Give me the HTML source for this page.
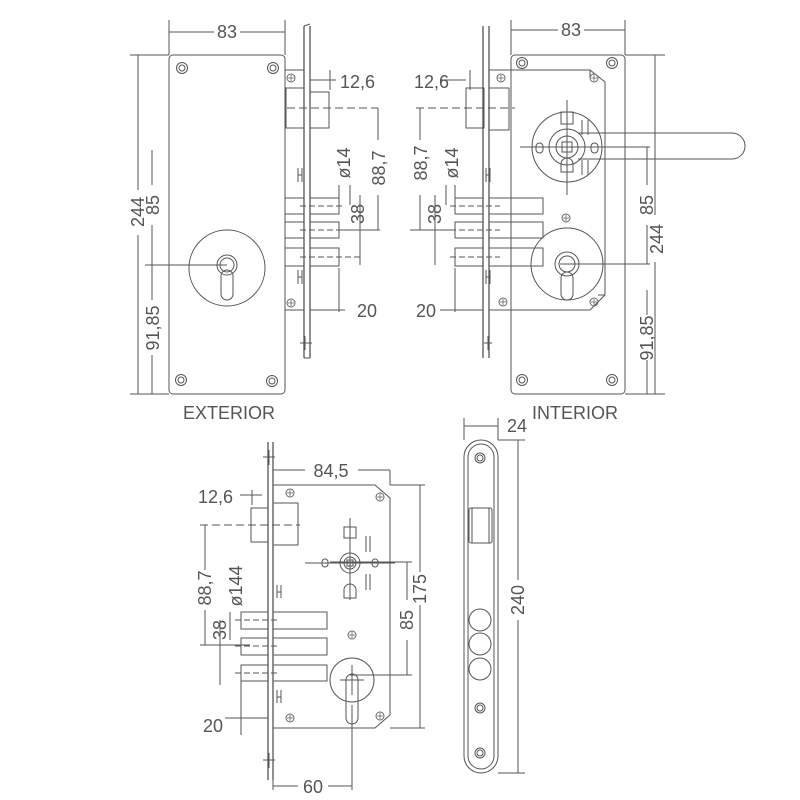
<!DOCTYPE html>
<html><head><meta charset="utf-8"><style>
html,body{margin:0;padding:0;background:#fff}
svg{display:block}
text{font-family:"Liberation Sans",sans-serif;fill:#555;font-size:18px}
</style></head><body>
<svg width="800" height="800" viewBox="0 0 800 800" xmlns="http://www.w3.org/2000/svg">
<defs>
<g id="scr"><circle r="5.5" fill="none" stroke="#555" stroke-width="1"/><circle r="3" fill="none" stroke="#555" stroke-width="1"/></g>
<g id="scr2"><circle r="4" fill="none" stroke="#666" stroke-width="1"/><path d="M-3 0H3M0 -3V3" stroke="#666" stroke-width="0.8"/></g>
</defs>
<g fill="none" stroke="#555" stroke-width="1">
<!-- ===== EXTERIOR ===== -->
<rect x="169" y="55" width="116" height="339" rx="4"/>
<use href="#scr" x="182" y="68"/><use href="#scr" x="273" y="68"/>
<use href="#scr" x="181" y="380"/><use href="#scr" x="272" y="381"/>
<path d="M169 20V55M285 20V55M169 32H214M240 32H285"/>
<path d="M138 55V190M138 235V394M130 55H169M130 394H169"/>
<path d="M152 150V185M152 225V300M152 355V394M145 265H227"/>
<circle cx="227" cy="268" r="38"/>
<circle cx="227" cy="265" r="10"/><circle cx="227" cy="265" r="7"/>
<rect x="221" y="270" width="12" height="30" rx="6"/>
<path d="M304 26V358M310 26V358" stroke-width="1.3"/>
<path d="M304 26L310 24M304 358L310 358"/>
<path d="M285 70H304M285 310H304"/>
<use href="#scr2" x="291" y="78"/><use href="#scr2" x="291" y="303"/>
<rect x="286" y="88" width="18" height="40"/>
<rect x="310" y="92" width="19" height="36"/>
<path d="M287 108H378" stroke-dasharray="8 4"/>
<path d="M310 80H336M330 70V90" />
<path d="M378 108V140M378 195V230M340 230H380"/>
<path d="M298 168V182M302 168V182M298 175H302M298 270V284M302 270V284M298 277H302"/>
<rect x="285" y="198" width="19" height="16"/><rect x="310" y="198" width="29" height="16"/>
<rect x="285" y="222" width="19" height="16"/><rect x="310" y="222" width="29" height="16"/>
<rect x="285" y="248" width="19" height="18"/><rect x="310" y="248" width="29" height="18"/>
<path d="M300 206H345M300 230H345M300 257H360" stroke-dasharray="6 3"/>
<path d="M339 185V199M350 185V205M360 195V265M339 268V312"/>
<path d="M310 310H345"/>
<path d="M300 343H312M305 336V350"/>
<!-- ===== INTERIOR ===== -->
<rect x="511" y="55" width="114" height="339" rx="4"/>
<use href="#scr" x="522" y="63"/><use href="#scr" x="612" y="63"/>
<use href="#scr" x="522" y="380"/><use href="#scr" x="612" y="380"/>
<path d="M511 20V55M625 20V55M511 30H558M584 30H625"/>
<path d="M489 70H590L605 82V295L590 310H489M590 70V78M605 295H598"/>
<use href="#scr2" x="501" y="78"/><use href="#scr2" x="594" y="78"/>
<use href="#scr2" x="503" y="302"/><use href="#scr2" x="594" y="302"/>
<use href="#scr2" x="566" y="218"/>
<path d="M483 26V358M489 26V358" stroke-width="1.3"/>
<rect x="466" y="88" width="18" height="40"/><rect x="489" y="88" width="20" height="42"/>
<path d="M416 108H515" stroke-dasharray="8 4"/>
<path d="M440 80H466M470 70V90"/>
<path d="M420 108V140M420 195V230M410 230H450"/>
<path d="M486 168V182M490 168V182M486 175H490M486 270V284M490 270V284M486 277H490"/>
<rect x="455" y="198" width="28" height="16"/><rect x="489" y="198" width="54" height="16"/>
<rect x="455" y="222" width="28" height="16"/><rect x="489" y="222" width="54" height="16"/>
<rect x="455" y="248" width="28" height="18"/><rect x="489" y="248" width="54" height="18"/>
<path d="M450 206H500M450 230H500M450 257H500" stroke-dasharray="6 3"/>
<path d="M455 185V199M446 185V205M435 195V265M455 268V312M440 310H483"/>
<path d="M484 343H492M488 336V350"/>
<circle cx="567" cy="147" r="35"/><circle cx="567" cy="147" r="18"/><circle cx="567" cy="147" r="11"/>
<rect x="562" y="142" width="10" height="10"/>
<path d="M520 147H650M567 100V195"/>
<rect x="561" y="112" width="12" height="12"/>
<path d="M561 172V164A6 6 0 0 1 573 164V172Z"/>
<rect x="536" y="143" width="7" height="10" rx="3.5"/><rect x="591" y="143" width="7" height="10" rx="3.5"/>
<path d="M582 120V135M588 120V135M582 160V175M588 160V175"/>
<path d="M578 133H732A13 13 0 0 1 732 159H578"/>
<circle cx="567" cy="264" r="36"/><circle cx="567" cy="264" r="12"/><circle cx="567" cy="264" r="8"/>
<rect x="561" y="272" width="12" height="28" rx="6"/>
<path d="M560 264H650"/>
<path d="M655 55V215M655 262V394M625 55H665M625 394H665"/>
<path d="M647 147V185M647 225V264M647 290V315M647 360V394"/>
<!-- ===== BOTTOM LOCK ===== -->
<path d="M268 442V780M273 442V780" stroke-width="1.3"/>
<path d="M273 485H375L390 498V715L375 728H273"/>
<use href="#scr2" x="290" y="493"/><use href="#scr2" x="380" y="497"/>
<use href="#scr2" x="290" y="718"/><use href="#scr2" x="380" y="716"/>
<use href="#scr2" x="352" y="635"/>
<path d="M263 457H275M269 450V465M263 760H275M269 753V768"/>
<rect x="251" y="508" width="17" height="34"/><rect x="273" y="503" width="25" height="42"/>
<path d="M200 525H300" stroke-dasharray="8 4"/>
<path d="M240 495H262M252 490V505"/>
<path d="M273 470H305M358 470H390M390 470V485M390 485H425M390 728H425"/>
<path d="M420 485V572M420 605V728"/>
<path d="M407 562V600M407 640V675M330 562H412M350 675H412"/>
<path d="M205 525V570M205 610V645M200 645H250"/>
<circle cx="350" cy="563" r="10"/><circle cx="350" cy="563" r="6"/>
<rect x="347" y="560" width="6" height="6"/>
<path d="M305 563H395M350 518V600"/>
<rect x="344" y="527" width="12" height="11"/>
<path d="M344 598V590A6 6 0 0 1 356 590V598Z"/>
<rect x="322" y="559" width="6" height="8" rx="3"/><rect x="372" y="559" width="6" height="8" rx="3"/>
<path d="M366 536V552M370 536V552M366 574V590M370 574V590"/>
<rect x="241" y="612" width="27" height="17"/><rect x="273" y="612" width="54" height="17"/>
<rect x="241" y="638" width="27" height="17"/><rect x="273" y="638" width="54" height="17"/>
<rect x="241" y="665" width="27" height="16"/><rect x="273" y="665" width="54" height="16"/>
<path d="M235 620H280M235 646H280M235 673H280" stroke-dasharray="6 3"/>
<path d="M230 612V640M220 620V685M241 681V735M225 718H268"/>
<path d="M277 585V598M281 585V598M277 592H281M277 690V703M281 690V703M277 697H281"/>
<circle cx="352" cy="680" r="22"/>
<path d="M346 680A6 6 0 0 1 358 680V718A6 6 0 0 1 346 718Z"/>
<path d="M352 665V695M340 680H364"/>
<path d="M352 705V790M273 760V790M273 786H298M328 786H352"/>
<rect x="464" y="440" width="34" height="333" rx="17"/>
<rect x="468" y="444" width="26" height="325" rx="13"/>
<path d="M464 418V440M498 418V440M464 426H498M498 440H525M498 773H525"/>
<path d="M518 440V580M518 620V773"/>
<circle cx="480" cy="458" r="5"/><circle cx="480" cy="458" r="3"/>
<rect x="469" y="508" width="23" height="35" rx="2"/>
<path d="M472 508V543M489 508V543"/>
<circle cx="480" cy="620" r="11"/><circle cx="480" cy="644" r="11"/><circle cx="480" cy="669" r="11"/>
<circle cx="480" cy="708" r="5"/><circle cx="480" cy="708" r="3"/>
<circle cx="480" cy="753" r="5"/><circle cx="480" cy="753" r="3"/>
</g>
<text x="227" y="38" text-anchor="middle">83</text>
<text x="571" y="36" text-anchor="middle">83</text>
<text x="340" y="88">12,6</text>
<text x="414" y="88">12,6</text>
<text x="198" y="503">12,6</text>
<text x="357" y="317">20</text>
<text x="416" y="317">20</text>
<text x="203" y="732">20</text>
<text x="313" y="793" text-anchor="middle">60</text>
<text x="331" y="477" text-anchor="middle">84,5</text>
<text x="507" y="432">24</text>
<text x="183" y="419" font-size="16">EXTERIOR</text>
<text x="532" y="419" font-size="16">INTERIOR</text>
<text transform="translate(144,212) rotate(-90)" text-anchor="middle">244</text>
<text transform="translate(159,205) rotate(-90)" text-anchor="middle">85</text>
<text transform="translate(159,328) rotate(-90)" text-anchor="middle">91,85</text>
<text transform="translate(385,168) rotate(-90)" text-anchor="middle">88,7</text>
<text transform="translate(350,163) rotate(-90)" text-anchor="middle" font-size="16">ø14</text>
<text transform="translate(364,214) rotate(-90)" text-anchor="middle">38</text>
<text transform="translate(427,163) rotate(-90)" text-anchor="middle">88,7</text>
<text transform="translate(458,163) rotate(-90)" text-anchor="middle" font-size="16">ø14</text>
<text transform="translate(441,214) rotate(-90)" text-anchor="middle">38</text>
<text transform="translate(653,205) rotate(-90)" text-anchor="middle">85</text>
<text transform="translate(663,239) rotate(-90)" text-anchor="middle">244</text>
<text transform="translate(653,338) rotate(-90)" text-anchor="middle">91,85</text>
<text transform="translate(211,588) rotate(-90)" text-anchor="middle">88,7</text>
<text transform="translate(242,586) rotate(-90)" text-anchor="middle" font-size="16">ø144</text>
<text transform="translate(226,630) rotate(-90)" text-anchor="middle">38</text>
<text transform="translate(413,620) rotate(-90)" text-anchor="middle">85</text>
<text transform="translate(426,589) rotate(-90)" text-anchor="middle">175</text>
<text transform="translate(524,600) rotate(-90)" text-anchor="middle">240</text>
</svg>
</body></html>
